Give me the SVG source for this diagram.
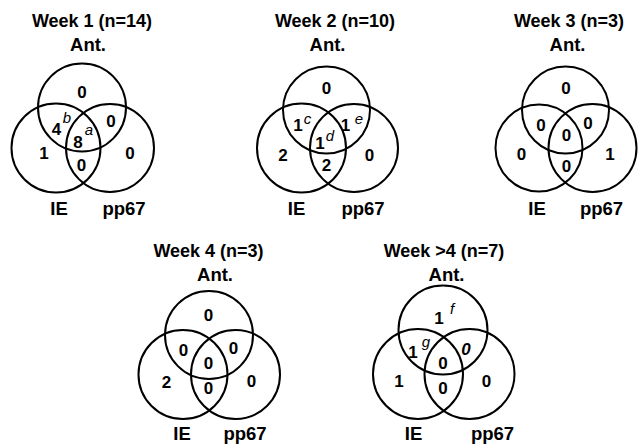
<svg xmlns="http://www.w3.org/2000/svg" width="638" height="445" viewBox="0 0 638 445">
  <style>
    .bg { fill: #ffffff; }
    .ring { fill: none; stroke: #000; stroke-width: 2; }
    .title { font-family: "Liberation Sans", Arial, sans-serif; font-weight: bold; font-size: 18px; fill: #000; text-anchor: middle; }
    .set { font-family: "Liberation Sans", Arial, sans-serif; font-weight: bold; font-size: 18.5px; fill: #000; text-anchor: middle; }
    .num { font-family: "Liberation Sans", Arial, sans-serif; font-weight: bold; font-size: 17px; fill: #000; text-anchor: middle; }
    .note { font-family: "Liberation Sans", Arial, sans-serif; font-style: italic; font-size: 15px; fill: #000; text-anchor: middle; }
    .slant { font-style: italic; }
  </style>
  <rect class="bg" x="0" y="0" width="638" height="445"/>

  <!-- Week 1 -->
  <g id="week1">
    <text class="title" x="92" y="27">Week 1 (n=14)</text>
    <text class="set" x="88" y="51">Ant.</text>
    <circle class="ring" cx="82" cy="107.5" r="44"/>
    <circle class="ring" cx="56" cy="148" r="44.5"/>
    <circle class="ring" cx="110" cy="148" r="44"/>
    <text class="num" x="82" y="98">0</text>
    <text class="num" x="56.5" y="135">4</text>
    <text class="note" x="67" y="123">b</text>
    <text class="note" x="89" y="135">a</text>
    <text class="num" x="111" y="127">0</text>
    <text class="num" x="78" y="148">8</text>
    <text class="num" x="44" y="159">1</text>
    <text class="num" x="81.5" y="171">0</text>
    <text class="num" x="130" y="159">0</text>
    <text class="set" x="59" y="215">IE</text>
    <text class="set" x="124" y="215">pp67</text>
  </g>

  <!-- Week 2 -->
  <g id="week2">
    <text class="title" x="335" y="27">Week 2 (n=10)</text>
    <text class="set" x="327.5" y="51">Ant.</text>
    <circle class="ring" cx="326.5" cy="110" r="43.5"/>
    <circle class="ring" cx="301.5" cy="148" r="44.5"/>
    <circle class="ring" cx="354" cy="148" r="44"/>
    <text class="num" x="326.5" y="94">0</text>
    <text class="num" x="298" y="131">1</text>
    <text class="note" x="307.5" y="124">c</text>
    <text class="num" x="345.5" y="131">1</text>
    <text class="note" x="359" y="124">e</text>
    <text class="num" x="320" y="149">1</text>
    <text class="note" x="330" y="141">d</text>
    <text class="num" x="283" y="161">2</text>
    <text class="num" x="369.5" y="161">0</text>
    <text class="num" x="326.5" y="171">2</text>
    <text class="set" x="296.5" y="215">IE</text>
    <text class="set" x="363" y="215">pp67</text>
  </g>

  <!-- Week 3 -->
  <g id="week3">
    <text class="title" x="569" y="27">Week 3 (n=3)</text>
    <text class="set" x="567.5" y="51">Ant.</text>
    <circle class="ring" cx="565.5" cy="110" r="43.5"/>
    <circle class="ring" cx="539" cy="148" r="43.5"/>
    <circle class="ring" cx="592.5" cy="148" r="44"/>
    <text class="num" x="566" y="94">0</text>
    <text class="num" x="541" y="131">0</text>
    <text class="num" x="588" y="129">0</text>
    <text class="num" x="566.5" y="141">0</text>
    <text class="num" x="521.5" y="160">0</text>
    <text class="num" x="610" y="160">1</text>
    <text class="num" x="566.5" y="172">0</text>
    <text class="set" x="537" y="215">IE</text>
    <text class="set" x="601.5" y="215">pp67</text>
  </g>

  <!-- Week 4 -->
  <g id="week4">
    <text class="title" x="208.5" y="257">Week 4 (n=3)</text>
    <text class="set" x="215" y="281">Ant.</text>
    <circle class="ring" cx="209" cy="335" r="44"/>
    <circle class="ring" cx="183" cy="374.5" r="44.5"/>
    <circle class="ring" cx="235.5" cy="374.5" r="44.5"/>
    <text class="num" x="208.5" y="321">0</text>
    <text class="num" x="183.5" y="356">0</text>
    <text class="num" x="233.5" y="354">0</text>
    <text class="num" x="208.5" y="369">0</text>
    <text class="num" x="166.5" y="388">2</text>
    <text class="num" x="251.5" y="387">0</text>
    <text class="num" x="208.5" y="394">0</text>
    <text class="set" x="182" y="440">IE</text>
    <text class="set" x="245" y="440">pp67</text>
  </g>

  <!-- Week >4 -->
  <g id="week5plus">
    <text class="title" x="444" y="257">Week &gt;4 (n=7)</text>
    <text class="set" x="446.5" y="281">Ant.</text>
    <circle class="ring" cx="443" cy="330" r="44.5"/>
    <circle class="ring" cx="418" cy="374" r="45"/>
    <circle class="ring" cx="469.5" cy="374" r="45"/>
    <text class="num" x="439" y="323.5">1</text>
    <text class="note" x="452" y="314">f</text>
    <text class="num" x="413" y="358">1</text>
    <text class="note" x="426" y="347">g</text>
    <text class="num slant" x="466" y="355">0</text>
    <text class="num" x="443" y="368.5">0</text>
    <text class="num" x="399" y="387">1</text>
    <text class="num" x="486.5" y="387">0</text>
    <text class="num" x="443" y="394">0</text>
    <text class="set" x="413.5" y="440">IE</text>
    <text class="set" x="492.5" y="440">pp67</text>
  </g>
</svg>
